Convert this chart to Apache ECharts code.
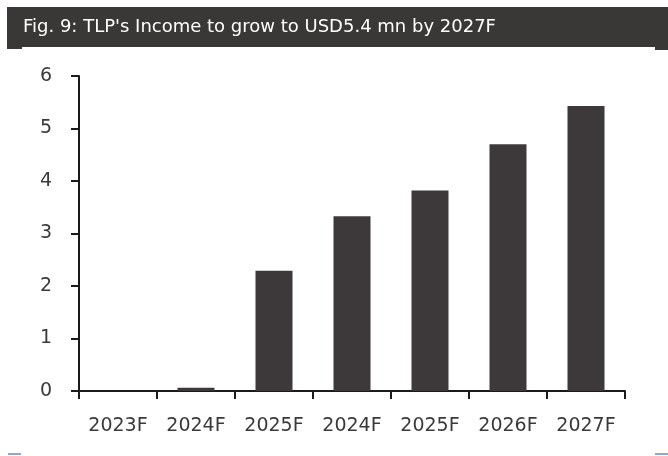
<!DOCTYPE html>
<html>
<head>
<meta charset="utf-8">
<script src="https://cdn.jsdelivr.net/npm/echarts@6/dist/echarts.min.js"></script>
<style>
  html, body { margin: 0; padding: 0; background: #ffffff; }
  #chart { width: 668px; height: 456px; }
</style>
</head>
<body>
<div id="chart"></div>
<script>
// Income forecast, USD mn
const categories = ['2023F', '2024F', '2025F', '2024F', '2025F', '2026F', '2027F'];
const income = [0, 0.06, 2.29, 3.33, 3.82, 4.70, 5.43];
const yTicks = [0, 1, 2, 3, 4, 5, 6];

const titleText = "Fig. 9: TLP's Income to grow to USD5.4 mn by 2027F";
const ink = '#1a1a1a';
const labelInk = '#3a3a3a';
const barColor = '#3d393a';
const labelFont = '"DejaVu Sans", "Noto Sans", sans-serif';

const chart = echarts.init(document.getElementById('chart'), null, { renderer: 'canvas' });

chart.setOption({
  animation: false,
  backgroundColor: '#ffffff',
  grid: { left: 79, right: 43, top: 76, bottom: 65, containLabel: false },
  graphic: [
    { type: 'rect', shape: { x: 7, y: 7, width: 661, height: 40 }, style: { fill: '#3a3836' } },
    { type: 'rect', shape: { x: 7, y: 47, width: 15, height: 2 }, style: { fill: '#3a3836' } },
    { type: 'rect', shape: { x: 655, y: 47, width: 13, height: 3 }, style: { fill: '#3a3836' } },
    {
      type: 'text', left: 23, top: 18,
      style: { text: titleText, fill: '#ffffff', font: '18px "DejaVu Sans", sans-serif' }
    },
    { type: 'rect', shape: { x: 8, y: 453, width: 13, height: 2 }, style: { fill: '#8fa8d0' } },
    { type: 'rect', shape: { x: 655, y: 453, width: 13, height: 2 }, style: { fill: '#8fa8d0' } }
  ],
  xAxis: {
    type: 'category',
    data: categories,
    boundaryGap: true,
    axisLine: { show: true, lineStyle: { color: ink, width: 2 } },
    axisTick: { show: true, length: 8, inside: false, lineStyle: { color: ink, width: 2 } },
    axisLabel: { color: labelInk, fontSize: 19, fontFamily: labelFont, margin: 26 },
    splitLine: { show: false }
  },
  yAxis: {
    type: 'value',
    min: yTicks[0],
    max: yTicks[yTicks.length - 1],
    interval: 1,
    axisLine: { show: true, onZero: false, lineStyle: { color: ink, width: 2 } },
    axisTick: { show: true, length: 8, lineStyle: { color: ink, width: 2 } },
    axisLabel: { color: labelInk, fontSize: 19, fontFamily: labelFont, margin: 27 },
    splitLine: { show: false }
  },
  series: [{
    type: 'bar',
    data: income,
    barWidth: 37,
    itemStyle: { color: barColor }
  }]
});
</script>
</body>
</html>
